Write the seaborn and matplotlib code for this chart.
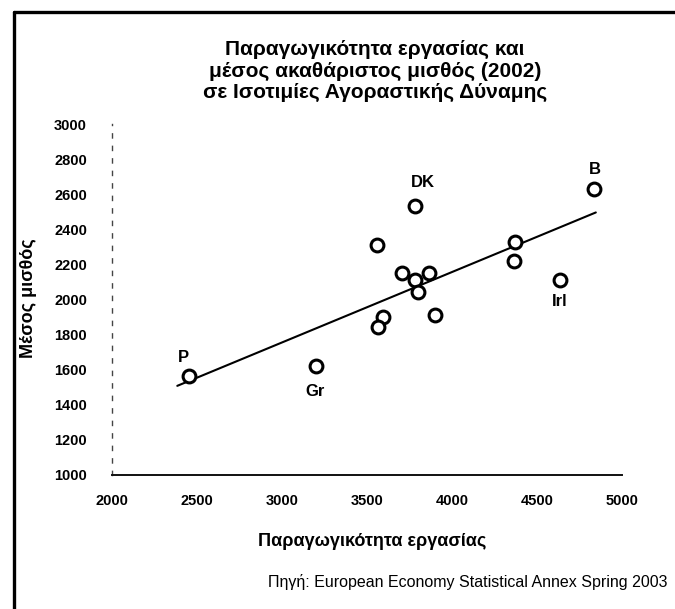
import matplotlib
matplotlib.use("Agg")
import matplotlib.pyplot as plt
import seaborn as sns
import pandas as pd
from matplotlib.lines import Line2D

# ---- data ----
productivity = [2455, 3200, 3560, 3785, 4833, 4370, 4365, 4635, 3705, 3780, 3865, 3800, 3595, 3565, 3900]
wage =         [1565, 1620, 2310, 2530, 2630, 2330, 2220, 2110, 2150, 2110, 2150, 2040, 1900, 1845, 1910]
country_labels = ["P", "Gr", "", "DK", "B", "", "", "Irl", "", "", "", "", "", "", ""]
trend_x = [2384, 4846]
trend_y = [1508, 2496]
x_ticks = [2000, 2500, 3000, 3500, 4000, 4500, 5000]
y_ticks = [1000, 1200, 1400, 1600, 1800, 2000, 2200, 2400, 2600, 2800, 3000]

title = "Παραγωγικότητα εργασίας και\nμέσος ακαθάριστος μισθός (2002)\nσε Ισοτιμίες Αγοραστικής Δύναμης"
xlabel = "Παραγωγικότητα εργασίας"
ylabel = "Μέσος μισθός"
source = "Πηγή: European Economy Statistical Annex Spring 2003"

df = pd.DataFrame({"x": productivity, "y": wage, "lab": country_labels})
trend = pd.DataFrame({"x": trend_x, "y": trend_y})

sns.set_theme(style="white")
plt.rcParams["font.family"] = ["Liberation Sans", "DejaVu Sans"]
plt.rcParams["text.color"] = "black"
plt.rcParams["xtick.color"] = "black"
plt.rcParams["ytick.color"] = "black"

W, H = 675, 609
fig = plt.figure(figsize=(W / 100, H / 100), dpi=100)
ax = fig.add_axes([112 / W, 1 - 475 / H, (622 - 112) / W, (475 - 124) / H])

sns.lineplot(data=trend, x="x", y="y", ax=ax, color="black", linewidth=1.5)
sns.scatterplot(data=df, x="x", y="y", ax=ax, s=85, facecolor="white",
                edgecolor="black", linewidth=2.2, zorder=3)

offsets = {"P": (-4, 13), "Gr": (-1, -18), "DK": (5, 17), "B": (1, 14), "Irl": (0, -15)}
for xv, yv, lab in zip(productivity, wage, country_labels):
    if lab:
        ax.annotate(lab, (xv, yv), xytext=offsets[lab], textcoords="offset points",
                    ha="center", va="center", fontsize=12, fontweight="bold",
                    color="black")

ax.set_xlim(2000, 5000)
ax.set_ylim(1000, 3000)
ax.set_xticks(x_ticks)
ax.set_yticks(y_ticks)
ax.set_xticklabels([str(v) for v in x_ticks], fontsize=10.5, fontweight="bold")
ax.set_yticklabels([str(v) for v in y_ticks], fontsize=10.5, fontweight="bold")
ax.tick_params(axis="both", length=0)
ax.tick_params(axis="y", pad=18)
ax.tick_params(axis="x", pad=14)
ax.set_xlabel("")
ax.set_ylabel("")
for s in ["top", "right"]:
    ax.spines[s].set_visible(False)
ax.spines["left"].set_color("#444444")
ax.spines["left"].set_linewidth(1.0)
ax.spines["left"].set_linestyle((0, (3, 6)))
ax.spines["bottom"].set_color("#111111")
ax.spines["bottom"].set_linewidth(1.4)
ax.spines["bottom"].set_linestyle((0, (6, 1)))
ax.set_facecolor("white")

fig.text(375 / W, 1 - 71 / H, title, ha="center", va="center", fontsize=15,
         fontweight="bold", linespacing=1.15, color="black")
fig.text(372 / W, 1 - 541 / H, xlabel, ha="center", va="center", fontsize=13,
         fontweight="bold", color="black")
fig.text(29 / W, 1 - 298 / H, ylabel, ha="center", va="center", rotation=90,
         fontsize=13, fontweight="bold", color="black")
fig.text(668 / W, 1 - 582 / H, source, ha="right", va="center", fontsize=11.5,
         color="black")

# outer frame (left and top borders)
fig.add_artist(Line2D([14 / W, 14 / W], [0, 1 - 12 / H], color="black", linewidth=2.4,
                      transform=fig.transFigure))
fig.add_artist(Line2D([14 / W, 1.0], [1 - 12 / H, 1 - 12 / H], color="black", linewidth=2.4,
                      transform=fig.transFigure))

fig.savefig("out.png", dpi=100, facecolor="white")
